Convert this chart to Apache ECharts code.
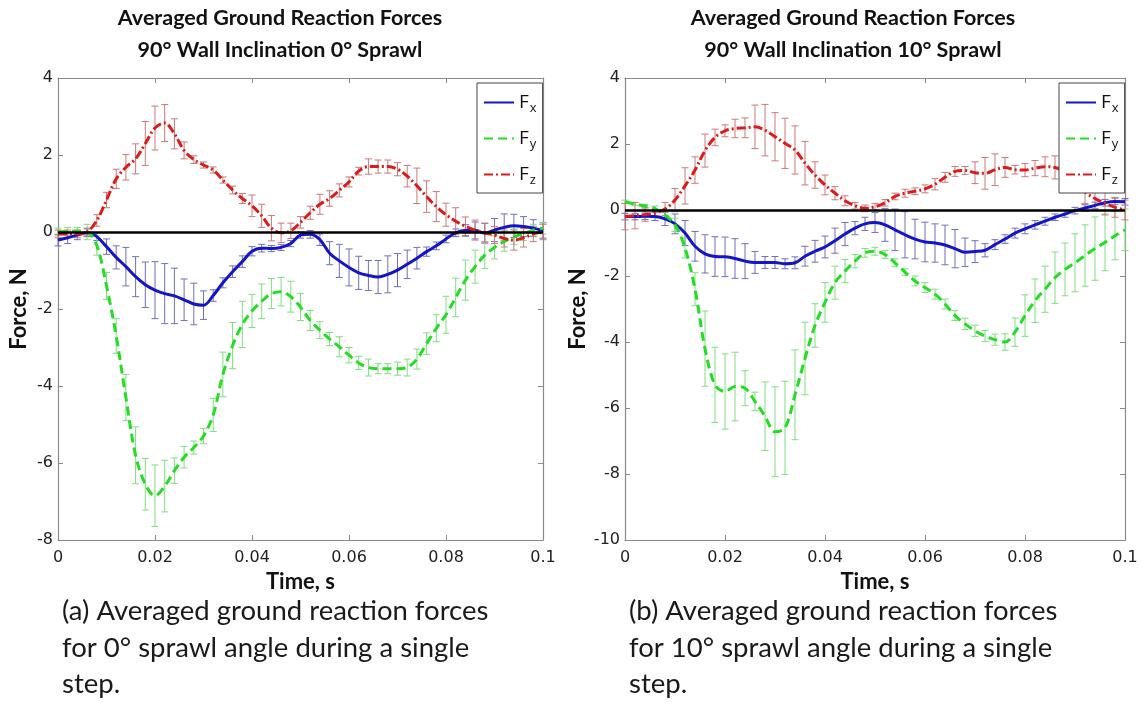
<!DOCTYPE html>
<html>
<head>
<meta charset="utf-8">
<script src="https://cdn.jsdelivr.net/npm/echarts@6/dist/echarts.min.js"></script>
<style>
html,body{margin:0;padding:0;background:#fff;}
#chart{width:1143px;height:702px;}
</style>
</head>
<body>
<div id="chart"></div>
<script>
// ---- DATA ----
const time = [0,0.002,0.004,0.006,0.008,0.010,0.012,0.014,0.016,0.018,0.020,0.022,0.024,0.026,0.028,0.030,0.032,0.034,0.036,0.038,0.040,0.042,0.044,0.046,0.048,0.050,0.052,0.054,0.056,0.058,0.060,0.062,0.064,0.066,0.068,0.070,0.072,0.074,0.076,0.078,0.080,0.082,0.084,0.086,0.088,0.090,0.092,0.094,0.096,0.098,0.100];

// (a) 0° sprawl
const fxA = [-0.21,-0.15,-0.08,-0.02,-0.12,-0.38,-0.66,-0.9,-1.16,-1.37,-1.51,-1.6,-1.66,-1.76,-1.87,-1.9,-1.65,-1.32,-1.03,-0.77,-0.5,-0.42,-0.43,-0.4,-0.3,-0.08,-0.06,-0.2,-0.55,-0.75,-0.92,-1.06,-1.13,-1.17,-1.1,-0.99,-0.84,-0.68,-0.51,-0.36,-0.18,-0.02,0.04,0.04,-0.03,0.05,0.12,0.16,0.14,0.1,0.04];
const fxAErr = [0.15,0.15,0.12,0.1,0.1,0.2,0.3,0.5,0.52,0.59,0.74,0.78,0.72,0.54,0.54,0.37,0.15,0.13,0.15,0.15,0.12,0.1,0.08,0.08,0.08,0.08,0.1,0.15,0.3,0.43,0.48,0.43,0.39,0.43,0.48,0.43,0.37,0.28,0.12,0.1,0.1,0.1,0.15,0.22,0.26,0.3,0.35,0.3,0.26,0.22,0.2];
const fyA = [0,0.02,0.02,0,-0.35,-1.4,-2.7,-4.3,-5.8,-6.55,-6.85,-6.6,-6.2,-5.85,-5.6,-5.3,-4.75,-3.7,-2.95,-2.4,-2.05,-1.8,-1.6,-1.55,-1.68,-1.95,-2.3,-2.55,-2.78,-2.98,-3.2,-3.4,-3.52,-3.55,-3.55,-3.55,-3.52,-3.3,-2.9,-2.5,-2.15,-1.7,-1.25,-0.9,-0.6,-0.4,-0.25,-0.12,-0.05,0.05,0.1];
const fyAErr = [0.1,0.1,0.1,0.2,0.25,0.35,0.45,0.6,0.74,0.67,0.8,0.67,0.33,0.28,0.17,0.2,0.43,0.58,0.6,0.6,0.43,0.45,0.39,0.37,0.4,0.35,0.26,0.22,0.17,0.26,0.2,0.17,0.22,0.13,0.13,0.17,0.22,0.26,0.28,0.35,0.48,0.5,0.52,0.43,0.35,0.3,0.25,0.2,0.17,0.15,0.15];
const fzA = [-0.05,-0.05,-0.05,0,0.3,0.83,1.38,1.68,1.9,2.3,2.7,2.83,2.55,2.12,1.88,1.74,1.61,1.35,1.09,0.87,0.68,0.42,0.1,-0.02,0.03,0.25,0.5,0.72,0.87,1.08,1.3,1.58,1.7,1.7,1.7,1.63,1.45,1.2,0.92,0.66,0.45,0.28,0.15,0.05,-0.02,-0.08,-0.17,-0.21,-0.15,-0.05,0];
const fzAErr = [0.1,0.1,0.1,0.1,0.15,0.2,0.25,0.33,0.39,0.57,0.57,0.48,0.39,0.22,0.1,0.08,0.08,0.08,0.1,0.13,0.28,0.3,0.33,0.25,0.2,0.15,0.17,0.26,0.2,0.17,0.13,0.1,0.2,0.17,0.17,0.17,0.28,0.46,0.41,0.39,0.3,0.35,0.24,0.26,0.24,0.22,0.22,0.26,0.24,0.2,0.2];

// (b) 10° sprawl
const fxB = [-0.2,-0.2,-0.19,-0.2,-0.27,-0.42,-0.7,-1.1,-1.33,-1.41,-1.42,-1.47,-1.55,-1.59,-1.59,-1.59,-1.63,-1.6,-1.4,-1.25,-1.12,-0.93,-0.73,-0.55,-0.42,-0.38,-0.45,-0.6,-0.75,-0.88,-0.97,-1.0,-1.06,-1.17,-1.28,-1.26,-1.22,-1.05,-0.88,-0.7,-0.57,-0.45,-0.34,-0.22,-0.12,-0.02,0.06,0.14,0.22,0.26,0.25];
const fxBErr = [0.1,0.1,0.1,0.12,0.2,0.3,0.38,0.45,0.58,0.6,0.6,0.6,0.53,0.33,0.18,0.18,0.15,0.18,0.3,0.33,0.33,0.38,0.35,0.2,0.2,0.3,0.5,0.63,0.7,0.6,0.6,0.58,0.6,0.58,0.43,0.33,0.2,0.15,0.13,0.15,0.15,0.13,0.12,0.1,0.1,0.1,0.1,0.1,0.1,0.1,0.1];
const fyB = [0.25,0.18,0.12,0.04,-0.15,-0.45,-1.15,-2.4,-4.2,-5.3,-5.5,-5.35,-5.4,-5.8,-6.25,-6.72,-6.6,-5.6,-4.5,-3.5,-2.8,-2.2,-1.85,-1.55,-1.3,-1.25,-1.35,-1.6,-1.88,-2.15,-2.35,-2.55,-2.85,-3.2,-3.45,-3.66,-3.82,-3.93,-4.0,-3.7,-3.2,-2.75,-2.4,-2.05,-1.8,-1.6,-1.38,-1.17,-0.98,-0.78,-0.6];
const fyBErr = [0.05,0.05,0.05,0.08,0.1,0.2,0.3,0.5,1.14,1.14,1.14,1.04,0.53,0.28,1.04,1.36,1.41,1.36,1.1,0.66,0.6,0.5,0.35,0.2,0.13,0.12,0.12,0.12,0.1,0.15,0.15,0.15,0.15,0.15,0.17,0.17,0.17,0.17,0.25,0.43,0.63,0.66,0.7,0.78,0.8,0.88,0.93,0.96,0.86,0.73,0.63];
const fzB = [-0.2,-0.17,-0.14,-0.09,0.03,0.3,0.73,1.21,1.8,2.2,2.4,2.47,2.49,2.52,2.42,2.22,2.02,1.82,1.42,1.06,0.76,0.51,0.28,0.13,0.05,0.1,0.22,0.41,0.51,0.57,0.64,0.78,0.99,1.17,1.2,1.13,1.11,1.22,1.29,1.22,1.21,1.27,1.31,1.29,1.15,0.9,0.55,0.35,0.2,0.08,0];
const fzBErr = [0.4,0.4,0.2,0.1,0.2,0.35,0.55,0.4,0.5,0.25,0.18,0.28,0.3,0.66,0.78,0.73,0.76,0.73,0.66,0.4,0.3,0.2,0.15,0.1,0.1,0.1,0.1,0.1,0.12,0.1,0.12,0.17,0.15,0.15,0.12,0.33,0.48,0.48,0.3,0.13,0.2,0.23,0.3,0.35,0.35,0.35,0.35,0.35,0.35,0.3,0.3];

const seriesNames = ['Fx','Fy','Fz'];
const subscripts = {Fx:'x', Fy:'y', Fz:'z'};
const yRangeA = [-8, 4];
const yRangeB = [-10, 4];
const xRange = [0, 0.1];

const titleLine1 = 'Averaged Ground Reaction Forces';
const titleA = '90° Wall Inclination 0° Sprawl';
const titleB = '90° Wall Inclination 10° Sprawl';
const captionA = '(a) Averaged ground reaction forces\nfor 0° sprawl angle during a single\nstep.';
const captionB = '(b) Averaged ground reaction forces\nfor 10° sprawl angle during a single\nstep.';
const xName = 'Time, s';
const yName = 'Force, N';

// ---- STYLE ----
const lineColors = {Fx:'#1414c8', Fy:'#22dd22', Fz:'#dd1a1a'};
const errColors = {Fx:'#6f6fbc', Fy:'#80dd80', Fz:'#cc7878'};
const lineTypes = {Fx:'solid', Fy:[9,5], Fz:[9,3,2,3]};
const axisGray = '#8a8a8a';
const tickFont = 'DejaVu Sans';
const textFont = 'Lato';

function pairs(vals){ return time.map((t,i)=>[t, vals[i]]); }
function errData(vals, errs){ return time.map((t,i)=>[t, vals[i]-errs[i], vals[i]+errs[i]]); }

function errorRender(color){
  return function(params, api){
    const lo = api.coord([api.value(0), api.value(1)]);
    const hi = api.coord([api.value(0), api.value(2)]);
    const w = 3.5;
    const st = {stroke: color, lineWidth: 1};
    return {type:'group', children:[
      {type:'line', shape:{x1:lo[0], y1:lo[1], x2:hi[0], y2:hi[1]}, style:st},
      {type:'line', shape:{x1:lo[0]-w, y1:lo[1], x2:lo[0]+w, y2:lo[1]}, style:st},
      {type:'line', shape:{x1:hi[0]-w, y1:hi[1], x2:hi[0]+w, y2:hi[1]}, style:st}
    ]};
  };
}

function buildSeries(gridIdx, data){
  const out = [];
  seriesNames.forEach((n)=>{
    out.push({
      type:'custom', xAxisIndex: gridIdx*2, yAxisIndex: gridIdx*2,
      renderItem: errorRender(errColors[n]), data: errData(data[n][0], data[n][1]),
      z: 2, silent: true
    });
    const s = {
      type:'line', name:n, xAxisIndex: gridIdx*2, yAxisIndex: gridIdx*2,
      data: pairs(data[n][0]), showSymbol:false, symbol:'none', smooth:0.35,
      lineStyle:{color: lineColors[n], width: 3, type: lineTypes[n]},
      itemStyle:{color: lineColors[n]},
      z: 3, silent:true
    };
    if (n === 'Fz') {
      s.markLine = {silent:true, symbol:'none', label:{show:false},
        lineStyle:{color:'#000', width:2.5, type:'solid'},
        data:[{yAxis:0}], z: 6};
    }
    out.push(s);
  });
  return out;
}

function xAxes(gridIdx){
  return [
    {type:'value', gridIndex:gridIdx, min:xRange[0], max:xRange[1], interval:0.02, position:'bottom',
     name:xName, nameLocation:'middle', nameGap:22,
     nameTextStyle:{fontFamily:textFont, fontWeight:700, fontSize:22, color:'#111'},
     axisLine:{show:true, onZero:false, lineStyle:{color:axisGray, width:1.2}},
     axisTick:{show:true, inside:true, length:5, lineStyle:{color:axisGray}},
     axisLabel:{show:true, margin:10, fontFamily:tickFont, fontSize:16, color:'#222',
       formatter: v => String(+v.toFixed(3))},
     splitLine:{show:false}},
    {type:'value', gridIndex:gridIdx, min:xRange[0], max:xRange[1], interval:0.02, position:'top',
     axisLine:{show:true, onZero:false, lineStyle:{color:axisGray, width:1.2}},
     axisTick:{show:true, inside:true, length:5, lineStyle:{color:axisGray}},
     axisLabel:{show:false}, splitLine:{show:false}}
  ];
}
function yAxes(gridIdx, range, gap){
  return [
    {type:'value', gridIndex:gridIdx, min:range[0], max:range[1], interval:2, position:'left',
     name:yName, nameLocation:'middle', nameGap:gap, nameRotate:90,
     nameTextStyle:{fontFamily:textFont, fontWeight:700, fontSize:22, color:'#111'},
     axisLine:{show:true, onZero:false, lineStyle:{color:axisGray, width:1.2}},
     axisTick:{show:true, inside:true, length:5, lineStyle:{color:axisGray}},
     axisLabel:{show:true, margin:5, fontFamily:tickFont, fontSize:16, color:'#222'},
     splitLine:{show:false}},
    {type:'value', gridIndex:gridIdx, min:range[0], max:range[1], interval:2, position:'right',
     axisLine:{show:true, onZero:false, lineStyle:{color:axisGray, width:1.2}},
     axisTick:{show:true, inside:true, length:5, lineStyle:{color:axisGray}},
     axisLabel:{show:false}, splitLine:{show:false}}
  ];
}

function legendFor(left){
  return {
    left:left, top:83, orient:'vertical', selectedMode:false,
    data: seriesNames,
    backgroundColor:'#fff', borderColor:'#444', borderWidth:1,
    padding:[7,6,6,6], itemGap:11, itemWidth:30, itemHeight:18,
    itemStyle:{color:'rgba(0,0,0,0)', borderWidth:0, opacity:0},
    formatter: n => '{m|F}{s|' + subscripts[n] + '}',
    textStyle:{color:'#111', rich:{
      m:{fontFamily:'Open Sans', fontSize:19, color:'#111', lineHeight:22},
      s:{fontFamily:'Open Sans', fontSize:13, color:'#111', padding:[12,0,0,1], lineHeight:22}
    }},
    z: 10
  };
}

const chart = echarts.init(document.getElementById('chart'), null, {renderer:'canvas'});
const option = {
  animation:false,
  backgroundColor:'#fff',
  grid:[
    {left:58, top:78, width:485, height:462},
    {left:625, top:78, width:500, height:462}
  ],
  xAxis:[...xAxes(0), ...xAxes(1)],
  yAxis:[...yAxes(0, yRangeA, 28), ...yAxes(1, yRangeB, 36)],
  legend:[legendFor(477), legendFor(1059)],
  series:[
    ...buildSeries(0, {Fx:[fxA,fxAErr], Fy:[fyA,fyAErr], Fz:[fzA,fzAErr]}),
    ...buildSeries(1, {Fx:[fxB,fxBErr], Fy:[fyB,fyBErr], Fz:[fzB,fzBErr]})
  ],
  graphic:[
    {type:'text', x:280, y:2, style:{text:titleLine1 + '\n' + titleA, textAlign:'center',
      font:'700 21.5px Lato', fill:'#111', lineHeight:32}},
    {type:'text', x:853, y:2, style:{text:titleLine1 + '\n' + titleB, textAlign:'center',
      font:'700 21.5px Lato', fill:'#111', lineHeight:32}},
    {type:'text', x:62, y:593, style:{text:captionA, font:'400 27.5px Lato', fill:'#1a1a1a', lineHeight:36.5}},
    {type:'text', x:629, y:593, style:{text:captionB, font:'400 27.5px Lato', fill:'#1a1a1a', lineHeight:36.5}}
  ]
};
chart.setOption(option);
</script>
</body>
</html>
